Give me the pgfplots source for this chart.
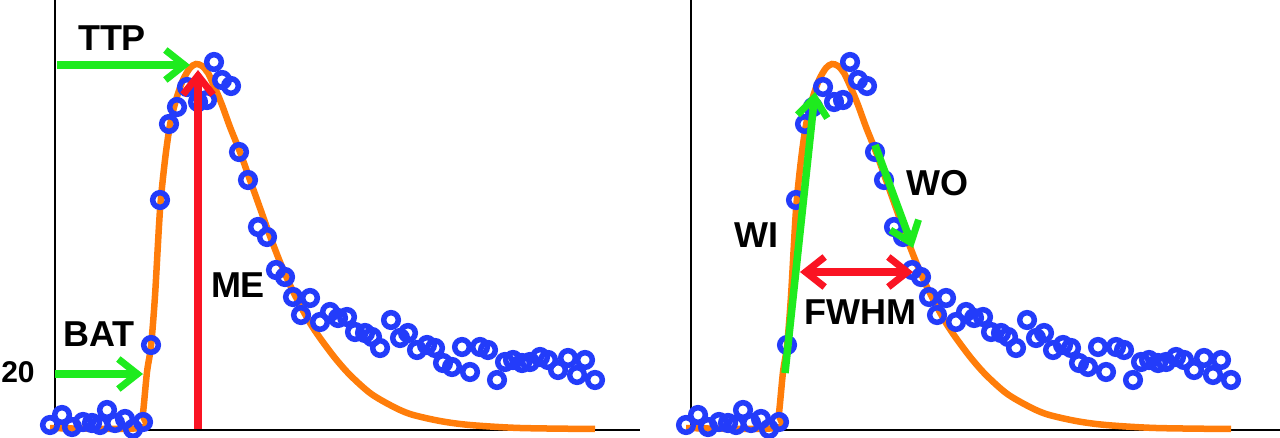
\documentclass[border=0pt]{standalone}
\usepackage{fontspec}
\setmainfont{Liberation Sans}
\usepackage{pgfplots}
\usepackage{pgfplotstable}
\pgfplotsset{compat=1.18}
\usetikzlibrary{arrows.meta}

\definecolor{curveorange}{RGB}{255,125,10}
\definecolor{dotblue}{RGB}{35,60,250}
\definecolor{arrgreen}{RGB}{30,235,30}
\definecolor{arrred}{RGB}{250,20,35}

\newcommand\lbl{\fontsize{36bp}{40bp}\selectfont\bfseries}

% measured samples (x, signal)
\pgfplotstableread{
x y
50 13
62 23
72 11
83 16
92 15
100 13
107 28
115 15
125 19
133 9
143 16
151 93
160 238
169 314
177 331
187 351
198 336
207 338
214 376
222 358
231 352
239 286
248 258
258 211
267 201
276 168
285 161
293 141
301 123
310 140
320 116
330 126
338 120
347 121
355 106
365 105
372 101
380 90
391 118
400 100
408 105
417 88
427 93
435 90
443 75
452 71
462 91
470 66
480 91
488 88
497 58
505 76
513 78
522 75
530 76
540 81
548 78
558 68
568 80
577 63
585 78
595 58
}\samples

% fitted curve
\pgfplotstableread{
x y
50 10
140 10
143 25
147 66
151 92
155 142
160 228
165 278
170 313
176 338
183 358
190 370
196 374
202 372
208 365
215 350
222 333
230 311
240 286
250 258
260 230
270 202
280 176
290 153
300 133
310 115
320 100
335 80
350 63
370 45
390 33
410 24
440 17
470 13
520 10
595 9
}\fitcurve

\pgfplotsset{
  panel/.style={
    anchor=south west, scale only axis,
    height=430bp, ymin=8, ymax=438, xmin=55,
    axis lines=left, axis line style={-, line width=2bp, black},
    xtick=\empty, ytick=\empty, clip=false,
  },
  dots/.style={only marks, mark=o, mark size=7.3bp,
    mark options={draw=dotblue, line width=5.5bp}},
  fit/.style={curveorange, line width=6.5bp, smooth},
}
\tikzset{
  tip/.tip={Straight Barb[length=19bp,width=30bp,line width=7bp]},
  garrow/.style={arrgreen, line width=7.5bp, -tip},
  rarrow/.style={arrred, line width=7.5bp},
}

\begin{document}
\begin{tikzpicture}
\useasboundingbox (0,0) rectangle (1280bp,438bp);

\begin{axis}[panel, at={(55bp,8bp)}, width=585bp, xmax=640]
\addplot[fit] table {\fitcurve};
\addplot[dots] table {\samples};
\coordinate (ttp0) at (axis cs:57,373);
\coordinate (ttp1) at (axis cs:190,373);
\coordinate (bat0) at (axis cs:55,64);
\coordinate (bat1) at (axis cs:143,64);
\coordinate (me0) at (axis cs:198,9);
\coordinate (me1) at (axis cs:198,368);
\node[font=\lbl] at (axis cs:112,400) {TTP};
\node[font=\lbl] at (axis cs:99,104) {BAT};
\node[font=\lbl] at (axis cs:238,153) {ME};
\node[font=\fontsize{30bp}{34bp}\selectfont\bfseries] at (axis cs:18,66) {20};
\end{axis}

\begin{axis}[panel, at={(691bp,8bp)}, width=589bp, xmax=644]
\addplot[fit] table {\fitcurve};
\addplot[dots] table {\samples};
\coordinate (wi0) at (axis cs:149,65);
\coordinate (wi1) at (axis cs:179,346);
\coordinate (wo0) at (axis cs:239,293);
\coordinate (wo1) at (axis cs:277,190);
\coordinate (fw0) at (axis cs:164,166);
\coordinate (fw1) at (axis cs:277,166);
\node[font=\lbl] at (axis cs:120,203) {WI};
\node[font=\lbl] at (axis cs:301,255) {WO};
\node[font=\lbl] at (axis cs:224,126) {FWHM};
\end{axis}

\draw[garrow] (ttp0) -- (ttp1);
\draw[garrow] (bat0) -- (bat1);
\draw[rarrow, -tip] (me0) -- (me1);
\draw[garrow] (wi0) -- (wi1);
\draw[garrow] (wo0) -- (wo1);
\draw[rarrow, tip-tip] (fw0) -- (fw1);
\end{tikzpicture}
\end{document}
